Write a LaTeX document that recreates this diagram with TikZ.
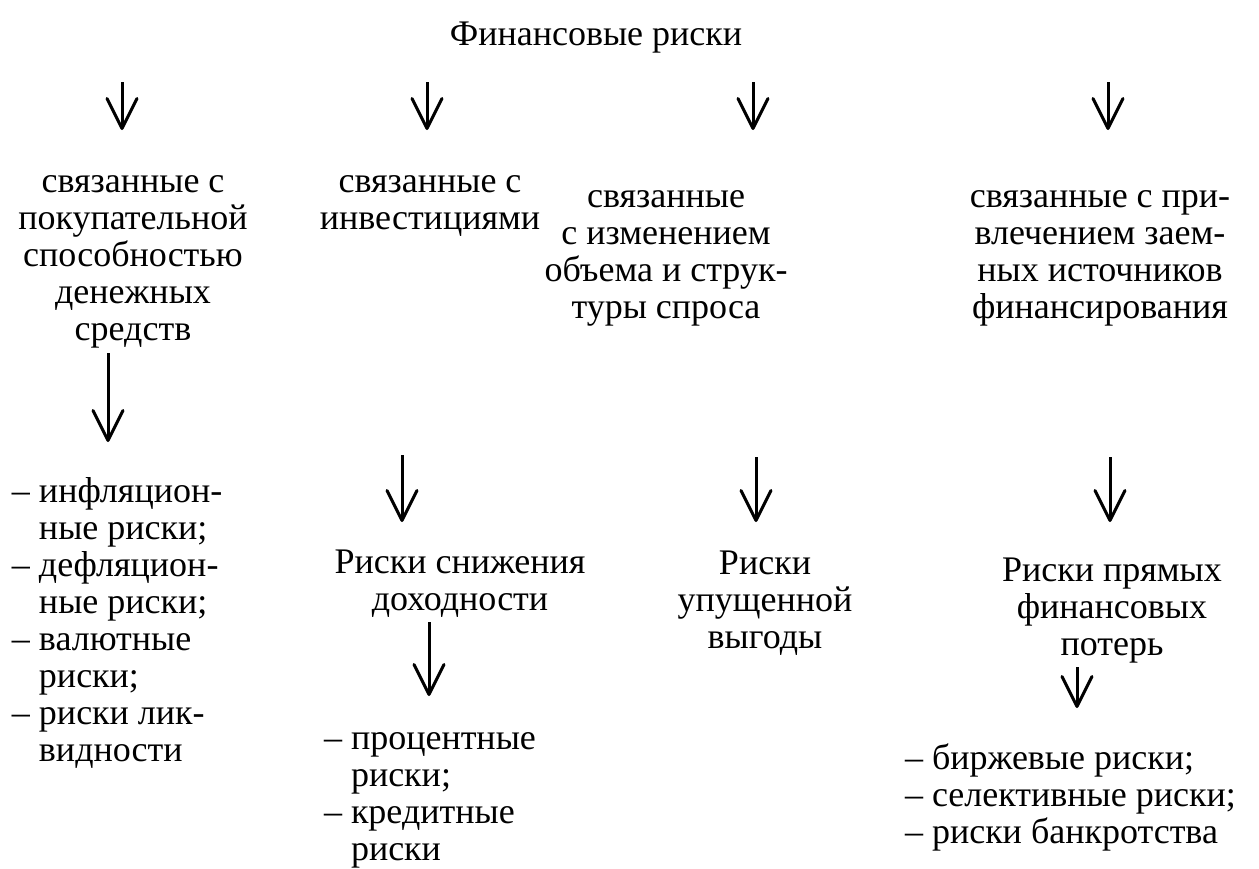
\documentclass[tikz,border=0pt]{standalone}
\usepackage{fontspec}
\setmainfont{Liberation Serif}
\usetikzlibrary{arrows.meta}
\newcommand{\fs}{\fontsize{36}{37}\selectfont}
\tikzset{
  txt/.style={inner sep=0pt, outer sep=0pt, align=center, font=\fs, anchor=north},
  lst/.style={inner sep=0pt, outer sep=0pt, align=left, font=\fs, anchor=north west},
  arr/.style={line width=3pt, -{Straight Barb[length=30pt,width=30pt,line cap=round,line join=round]}}
}
\begin{document}
\begin{tikzpicture}[x=1pt,y=-1pt]
\useasboundingbox (0,0) rectangle (1259,868);
\node[inner sep=0pt, font=\fs, anchor=base] (title) at (596,45) {Финансовые риски};
% row 1 arrows
\coordinate (a1s) at (122,82); \coordinate (a1e) at (122,130);
\coordinate (a2s) at (427,82); \coordinate (a2e) at (427,130);
\coordinate (a3s) at (753,82); \coordinate (a3e) at (753,130);
\coordinate (a4s) at (1108,82); \coordinate (a4e) at (1108,130);
\foreach \i in {1,2,3,4} \draw[arr] (a\i s) -- (a\i e);
% category texts
\node[txt] (c1) at (133,167) {\strut связанные с\\покупательной\\способностью\\денежных\\средств};
\node[txt] (c2) at (430,167) {\strut связанные с\\инвестициями};
\node[txt] (c3) at (666,182) {\strut связанные\\с изменением\\объема и струк-\\туры спроса};
\node[txt] (c4) at (1100,182) {\strut связанные с при-\\влечением заем-\\ных источников\\финансирования};
% column 1
\coordinate (b1s) at (108,353); \coordinate (b1e) at (108,442);
\draw[arr] (b1s) -- (b1e);
\node[lst] (l1) at (12,477) {\strut – инфляцион-\\\phantom{– }ные риски;\\– дефляцион-\\\phantom{– }ные риски;\\– валютные\\\phantom{– }риски;\\– риски лик-\\\phantom{– }видности};
% column 2
\coordinate (b2s) at (402,455); \coordinate (b2e) at (402,522);
\draw[arr] (b2s) -- (b2e);
\node[txt] (r2) at (460,548) {\strut Риски снижения\\доходности};
\coordinate (d2s) at (429,622); \coordinate (d2e) at (429,696);
\draw[arr] (d2s) -- (d2e);
\node[lst] (l2) at (324,724) {\strut – процентные\\\phantom{– }риски;\\– кредитные\\\phantom{– }риски};
% column 3
\coordinate (b3s) at (756,457); \coordinate (b3e) at (756,522);
\draw[arr] (b3s) -- (b3e);
\node[txt] (r3) at (765,549) {\strut Риски\\упущенной\\выгоды};
% column 4
\coordinate (b4s) at (1110,457); \coordinate (b4e) at (1110,522);
\draw[arr] (b4s) -- (b4e);
\node[txt] (r4) at (1112,556) {\strut Риски прямых\\финансовых\\потерь};
\coordinate (d4s) at (1077,667); \coordinate (d4e) at (1077,708);
\draw[arr] (d4s) -- (d4e);
\node[lst] (l4) at (905,744) {\strut – биржевые риски;\\– селективные риски;\\– риски банкротства};
\end{tikzpicture}
\end{document}
